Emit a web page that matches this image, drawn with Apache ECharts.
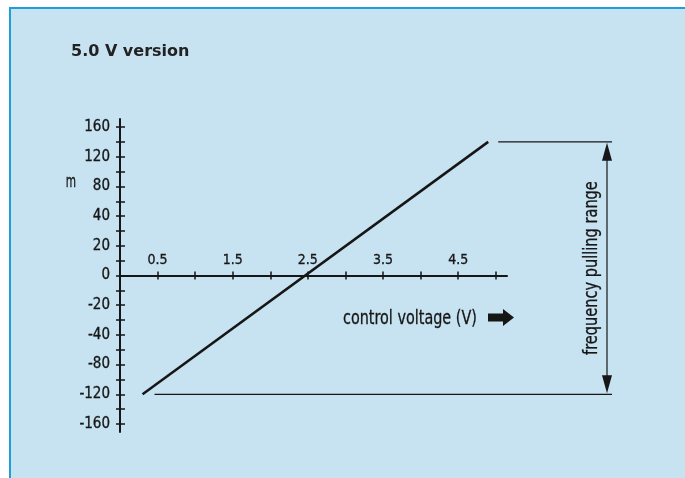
<!DOCTYPE html>
<html>
<head>
<meta charset="utf-8">
<script src="https://cdn.jsdelivr.net/npm/echarts@6/dist/echarts.min.js"></script>
<style>
  html, body { margin: 0; padding: 0; background: #fff; }
  #panel { position: absolute; left: 9px; top: 7px; width: 676px; height: 471px; background: #c7e3f1;
           border-left: 2px solid #1f9fd9; border-top: 2px solid #1f9fd9; box-sizing: border-box; }
  #chart { position: absolute; left: 0; top: 0; width: 685px; height: 478px; }
</style>
</head>
<body>
<div id="panel"></div>
<div id="chart"></div>
<script>
// control voltage (V) at both ends of the curve
const voltage = [0.3, 4.9];
// frequency pulling at those voltages
const pulling = [-120, 140];
// y tick labels, bottom to top (evenly spaced on the axis even though the steps differ)
const yLabels = [-160, -120, -80, -40, -20, 0, 20, 40, 80, 120, 160];
const xLabels = [0.5, 1.5, 2.5, 3.5, 4.5];

const ink = '#161616';
const cond = '"DejaVu Sans Condensed", "DejaVu Sans", sans-serif';

// y scale is piecewise: map a value onto the evenly spaced label positions
function yPos(v) {
  for (let i = 0; i < yLabels.length - 1; i++) {
    let a = yLabels[i], b = yLabels[i + 1];
    if (v >= a && v <= b) return i - 5 + (v - a) / (b - a);
  }
  return v < 0 ? -5 : 5;
}

let yTicks = [], yLabelPos = [], xTicks = [];
for (let k = -10; k <= 10; k++) yTicks.push(k / 2);
for (let k = -5; k <= 5; k++) yLabelPos.push(k);
for (let k = 1; k <= 10; k++) xTicks.push(k / 2);

const gridTop = 119, gridBottom = 46, chartH = 478;
// the x axis sits on y = 0, which is the middle of the symmetric y range
const xOffset = -(chartH - gridTop - gridBottom) / 2;

let chart = echarts.init(document.getElementById('chart'));

chart.setOption({
  animation: false,
  backgroundColor: 'transparent',
  title: {
    text: '5.0 V version',
    left: 66,
    top: 39,
    textStyle: { fontFamily: '"DejaVu Sans", sans-serif', fontSize: 16, fontWeight: 'bold', color: '#222' }
  },
  grid: { left: 120, right: 178, top: gridTop, bottom: gridBottom, outerBoundsMode: 'none' },
  xAxis: [{
    type: 'value', min: 0, max: 5.15, position: 'bottom', offset: xOffset,
    axisLine: { onZero: false, lineStyle: { color: ink, width: 2 } },
    axisTick: { inside: true, length: 4, customValues: xTicks, lineStyle: { color: ink, width: 1.5 } },
    axisLabel: {
      inside: true, margin: 8, customValues: xLabels,
      formatter: v => v.toFixed(1),
      fontFamily: cond, fontSize: 14, color: ink, textBorderColor: ink, textBorderWidth: 0.3
    },
    splitLine: { show: false }
  }, {
    type: 'value', min: 0, max: 5.15, position: 'bottom', offset: xOffset,
    axisLine: { show: false, onZero: false },
    axisTick: { length: 4, customValues: xTicks, lineStyle: { color: ink, width: 1.5 } },
    axisLabel: { show: false },
    splitLine: { show: false }
  }],
  yAxis: [{
    type: 'value', min: -5.27, max: 5.27, position: 'left',
    axisLine: { show: true, onZero: false, lineStyle: { color: ink, width: 2 } },
    axisTick: { length: 4, customValues: yTicks, lineStyle: { color: ink, width: 1.5 } },
    axisLabel: {
      margin: 10, customValues: yLabelPos,
      formatter: v => String(yLabels[Math.round(v) + 5]),
      fontFamily: cond, fontSize: 15, color: ink, textBorderColor: ink, textBorderWidth: 0.3
    },
    splitLine: { show: false }
  }, {
    type: 'value', min: -5.27, max: 5.27, position: 'left',
    axisLine: { show: false, onZero: false },
    axisTick: { inside: true, length: 5, customValues: yTicks, lineStyle: { color: ink, width: 1.5 } },
    axisLabel: { show: false },
    splitLine: { show: false }
  }],
  series: [{
    type: 'line',
    clip: false,
    symbol: 'none',
    data: voltage.map((v, i) => [v, yPos(pulling[i])]),
    lineStyle: { color: ink, width: 2.5 }
  }]
});

// annotations: pulling range bracket, placed from the data through the axes
let pTop = chart.convertToPixel({ gridIndex: 0 }, [voltage[1], yPos(Math.max(...pulling))]);
let pBot = chart.convertToPixel({ gridIndex: 0 }, [voltage[0], yPos(Math.min(...pulling))]);
let pAxis = chart.convertToPixel({ gridIndex: 0 }, [5.15, 0]);
let rightX = 612, arrowX = 607;
let ay = pAxis[1] + 42;  // row of the "control voltage" caption

const capStyle = { fontFamily: cond, fontSize: 20, fill: ink, stroke: ink, lineWidth: 0.3 };

chart.setOption({
  graphic: [
    { type: 'line', shape: { x1: pTop[0] + 10, y1: pTop[1], x2: rightX, y2: pTop[1] }, style: { stroke: ink, lineWidth: 1.2 } },
    { type: 'line', shape: { x1: pBot[0] + 12, y1: pBot[1], x2: rightX, y2: pBot[1] }, style: { stroke: ink, lineWidth: 1.2 } },
    { type: 'line', shape: { x1: arrowX, y1: pTop[1] + 10, x2: arrowX, y2: pBot[1] - 10 }, style: { stroke: ink, lineWidth: 1.2 } },
    { type: 'polygon', shape: { points: [[arrowX, pTop[1] + 1], [arrowX - 5, pTop[1] + 19], [arrowX + 5, pTop[1] + 19]] }, style: { fill: ink } },
    { type: 'polygon', shape: { points: [[arrowX, pBot[1] - 1], [arrowX - 5, pBot[1] - 19], [arrowX + 5, pBot[1] - 19]] }, style: { fill: ink } },
    {
      type: 'text', x: 592, y: (pTop[1] + pBot[1]) / 2, rotation: Math.PI / 2, scaleX: 0.81,
      style: Object.assign({ text: 'frequency pulling range', align: 'center', verticalAlign: 'middle' }, capStyle)
    },
    {
      type: 'text', x: 343, y: ay + 1, scaleX: 0.8,
      style: Object.assign({ text: 'control voltage (V)', align: 'left', verticalAlign: 'middle' }, capStyle)
    },
    {
      type: 'polygon',
      shape: { points: [[488, ay - 4], [503, ay - 4], [503, ay - 8.5], [514, ay], [503, ay + 8.5], [503, ay + 4], [488, ay + 4]] },
      style: { fill: ink }
    },
    {
      type: 'text', x: 71, y: 182, scaleX: 0.65,
      style: { text: 'm', fontFamily: cond, fontSize: 18, fill: ink, stroke: ink, lineWidth: 0.3, align: 'center', verticalAlign: 'middle' }
    }
  ]
});
</script>
</body>
</html>
